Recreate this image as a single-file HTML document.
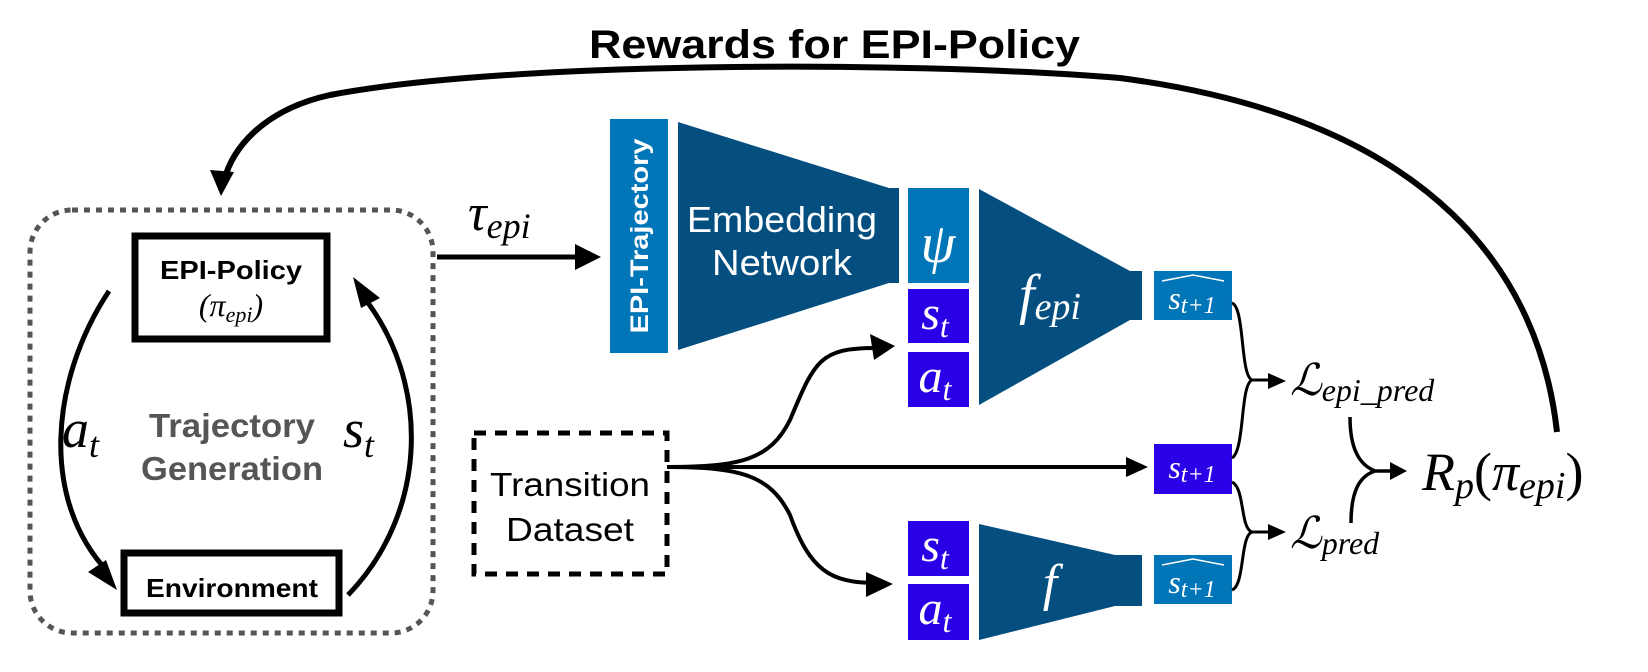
<!DOCTYPE html>
<html><head><meta charset="utf-8"><style>
html,body{margin:0;padding:0;background:#fff;}
svg{display:block;}
.m{font-family:"Liberation Serif",serif;font-style:italic;}
.s{font-family:"Liberation Sans",sans-serif;font-weight:bold;}
</style></head><body>
<svg width="1648" height="672" viewBox="0 0 1648 672" xmlns="http://www.w3.org/2000/svg">
<!-- title -->
<text class="s" x="589" y="58" font-size="40" textLength="491" lengthAdjust="spacingAndGlyphs">Rewards for EPI-Policy</text>
<!-- big arc -->
<path d="M1557,432 C1540,280 1440,120 1120,78 C900,60 500,62 330,95 C262,110 232,150 225,178" fill="none" stroke="#000" stroke-width="6"/>
<polygon points="221,196 210,170 234,172" fill="#000"/>

<!-- dotted box -->
<rect x="30" y="210" width="403" height="423" rx="42" fill="none" stroke="#555" stroke-width="5" stroke-dasharray="6,6"/>
<rect x="135" y="236" width="192" height="103" fill="none" stroke="#000" stroke-width="7"/>
<text class="s" x="231" y="279" font-size="26" text-anchor="middle" textLength="142" lengthAdjust="spacingAndGlyphs">EPI-Policy</text>
<text class="m" x="231" y="316" font-size="32" text-anchor="middle" font-style="normal">(<tspan font-style="italic">π</tspan><tspan font-style="italic" font-size="22" dy="6">epi</tspan><tspan dy="-6">)</tspan></text>
<rect x="124" y="553" width="215" height="60" fill="none" stroke="#000" stroke-width="7"/>
<text class="s" x="232" y="597" font-size="26" text-anchor="middle" textLength="172" lengthAdjust="spacingAndGlyphs">Environment</text>
<text class="s" x="232" y="437" font-size="33" fill="#555" text-anchor="middle" textLength="166" lengthAdjust="spacingAndGlyphs">Trajectory</text>
<text class="s" x="232" y="480" font-size="33" fill="#555" text-anchor="middle" textLength="182" lengthAdjust="spacingAndGlyphs">Generation</text>
<!-- left arc a_t -->
<path d="M109,291 C50,380 40,500 108,572" fill="none" stroke="#000" stroke-width="5"/>
<polygon points="117,590 88,572 106,560" fill="#000"/>
<text class="m" x="62" y="447" font-size="54">a<tspan font-size="36" dy="10">t</tspan></text>
<!-- right arc s_t -->
<path d="M348,595 C430,510 430,380 362,295" fill="none" stroke="#000" stroke-width="5"/>
<polygon points="353,277 380,298 361,308" fill="#000"/>
<text class="m" x="343" y="447" font-size="54">s<tspan font-size="36" dy="10">t</tspan></text>

<!-- tau arrow -->
<line x1="437" y1="257" x2="582" y2="257" stroke="#000" stroke-width="5"/>
<polygon points="601,257 575,244 575,270" fill="#000"/>
<text class="m" x="468" y="230" font-size="52">τ<tspan font-size="36" dy="8">epi</tspan></text>

<!-- transition dataset -->
<rect x="474" y="433" width="193" height="141" fill="none" stroke="#000" stroke-width="5" stroke-dasharray="12,9"/>
<text class="s" x="570" y="496" font-size="33" text-anchor="middle" style="font-weight:normal" textLength="160" lengthAdjust="spacingAndGlyphs">Transition</text>
<text class="s" x="570" y="541" font-size="33" text-anchor="middle" style="font-weight:normal" textLength="128" lengthAdjust="spacingAndGlyphs">Dataset</text>

<!-- embedding network -->
<rect x="610" y="119" width="58" height="234" fill="#0075b8"/>
<text class="s" x="0" y="0" font-size="25" fill="#fff" text-anchor="middle" transform="translate(648,236) rotate(-90)" textLength="195" lengthAdjust="spacingAndGlyphs">EPI-Trajectory</text>
<polygon points="678,122 889,188 899,188 899,283 889,283 678,350" fill="#044f80"/>
<text class="s" x="782" y="232" font-size="36" fill="#fff" text-anchor="middle" style="font-weight:normal" textLength="190" lengthAdjust="spacingAndGlyphs">Embedding</text>
<text class="s" x="782" y="275" font-size="36" fill="#fff" text-anchor="middle" style="font-weight:normal" textLength="140" lengthAdjust="spacingAndGlyphs">Network</text>
<rect x="908" y="188" width="61" height="95" fill="#0075b8"/>
<text class="m" x="938" y="262" font-size="56" fill="#fff" text-anchor="middle">ψ</text>
<rect x="908" y="289" width="61" height="54" fill="#2a00e6"/>
<text class="m" x="935" y="329" font-size="48" fill="#fff" text-anchor="middle">s<tspan font-size="32" dy="8">t</tspan></text>
<rect x="908" y="352" width="61" height="55" fill="#2a00e6"/>
<text class="m" x="935" y="392" font-size="48" fill="#fff" text-anchor="middle">a<tspan font-size="32" dy="8">t</tspan></text>
<!-- f_epi -->
<polygon points="979,189 1130,271 1142,271 1142,320 1130,320 979,405" fill="#044f80"/>
<text class="m" x="1050" y="313" font-size="56" fill="#fff" text-anchor="middle">f<tspan font-size="38" dy="6">epi</tspan></text>
<rect x="1154" y="271" width="78" height="49" fill="#0075b8"/>
<text class="m" x="1192" y="309" font-size="32" fill="#fff" text-anchor="middle">s<tspan font-size="24" dy="4">t+1</tspan></text>
<path d="M1162,281 L1193,275 L1224,281" fill="none" stroke="#fff" stroke-width="1.5"/>

<!-- branches from dataset -->
<path d="M667,467 C740,467 770,460 790,420 C815,360 820,348 876,348" fill="none" stroke="#000" stroke-width="4"/>
<polygon points="895,346 870,334 874,360" fill="#000"/>
<path d="M667,467 C740,467 770,475 790,515 C810,570 830,583 876,583" fill="none" stroke="#000" stroke-width="4"/>
<polygon points="893,584 866,572 866,597" fill="#000"/>
<line x1="667" y1="467" x2="1130" y2="467" stroke="#000" stroke-width="4"/>
<polygon points="1148,467 1126,457 1126,477" fill="#000"/>

<!-- bottom f -->
<rect x="908" y="521" width="61" height="55" fill="#2a00e6"/>
<text class="m" x="935" y="561" font-size="48" fill="#fff" text-anchor="middle">s<tspan font-size="32" dy="8">t</tspan></text>
<rect x="908" y="584" width="61" height="56" fill="#2a00e6"/>
<text class="m" x="935" y="624" font-size="48" fill="#fff" text-anchor="middle">a<tspan font-size="32" dy="8">t</tspan></text>
<polygon points="979,524 1115,555 1142,555 1142,606 1115,606 979,640" fill="#044f80"/>
<text class="m" x="1050" y="600" font-size="52" fill="#fff" text-anchor="middle">f</text>
<rect x="1154" y="555" width="78" height="49" fill="#0075b8"/>
<text class="m" x="1192" y="593" font-size="32" fill="#fff" text-anchor="middle">s<tspan font-size="24" dy="4">t+1</tspan></text>
<path d="M1162,565 L1193,559 L1224,565" fill="none" stroke="#fff" stroke-width="1.5"/>
<rect x="1154" y="444" width="78" height="50" fill="#2a00e6"/>
<text class="m" x="1192" y="478" font-size="32" fill="#fff" text-anchor="middle">s<tspan font-size="24" dy="4">t+1</tspan></text>

<!-- braces -->
<path d="M1232,303 C1245,308 1240,375 1252,380 M1232,458 C1245,450 1240,385 1252,380 L1272,380" fill="none" stroke="#000" stroke-width="3"/>
<polygon points="1286,381 1268,373 1268,389" fill="#000"/>
<path d="M1232,482 C1245,488 1240,528 1252,532 M1232,590 C1245,585 1240,536 1252,532 L1272,532" fill="none" stroke="#000" stroke-width="3"/>
<polygon points="1286,532 1268,524 1268,540" fill="#000"/>
<text class="m" x="1290" y="395" font-size="44">ℒ<tspan font-size="32" dy="6">epi_pred</tspan></text>
<text class="m" x="1290" y="548" font-size="44">ℒ<tspan font-size="32" dy="6">pred</tspan></text>
<path d="M1350,417 C1350,450 1360,465 1375,471 M1351,523 C1351,490 1360,476 1375,471 L1395,471" fill="none" stroke="#000" stroke-width="3.5"/>
<polygon points="1407,471 1390,462 1390,480" fill="#000"/>
<text class="m" x="1422" y="490" font-size="54">R<tspan font-size="38" dy="8">p</tspan><tspan font-style="normal" dy="-8">(</tspan>π<tspan font-size="38" dy="8">epi</tspan><tspan font-style="normal" dy="-8">)</tspan></text>
</svg>
</body></html>
